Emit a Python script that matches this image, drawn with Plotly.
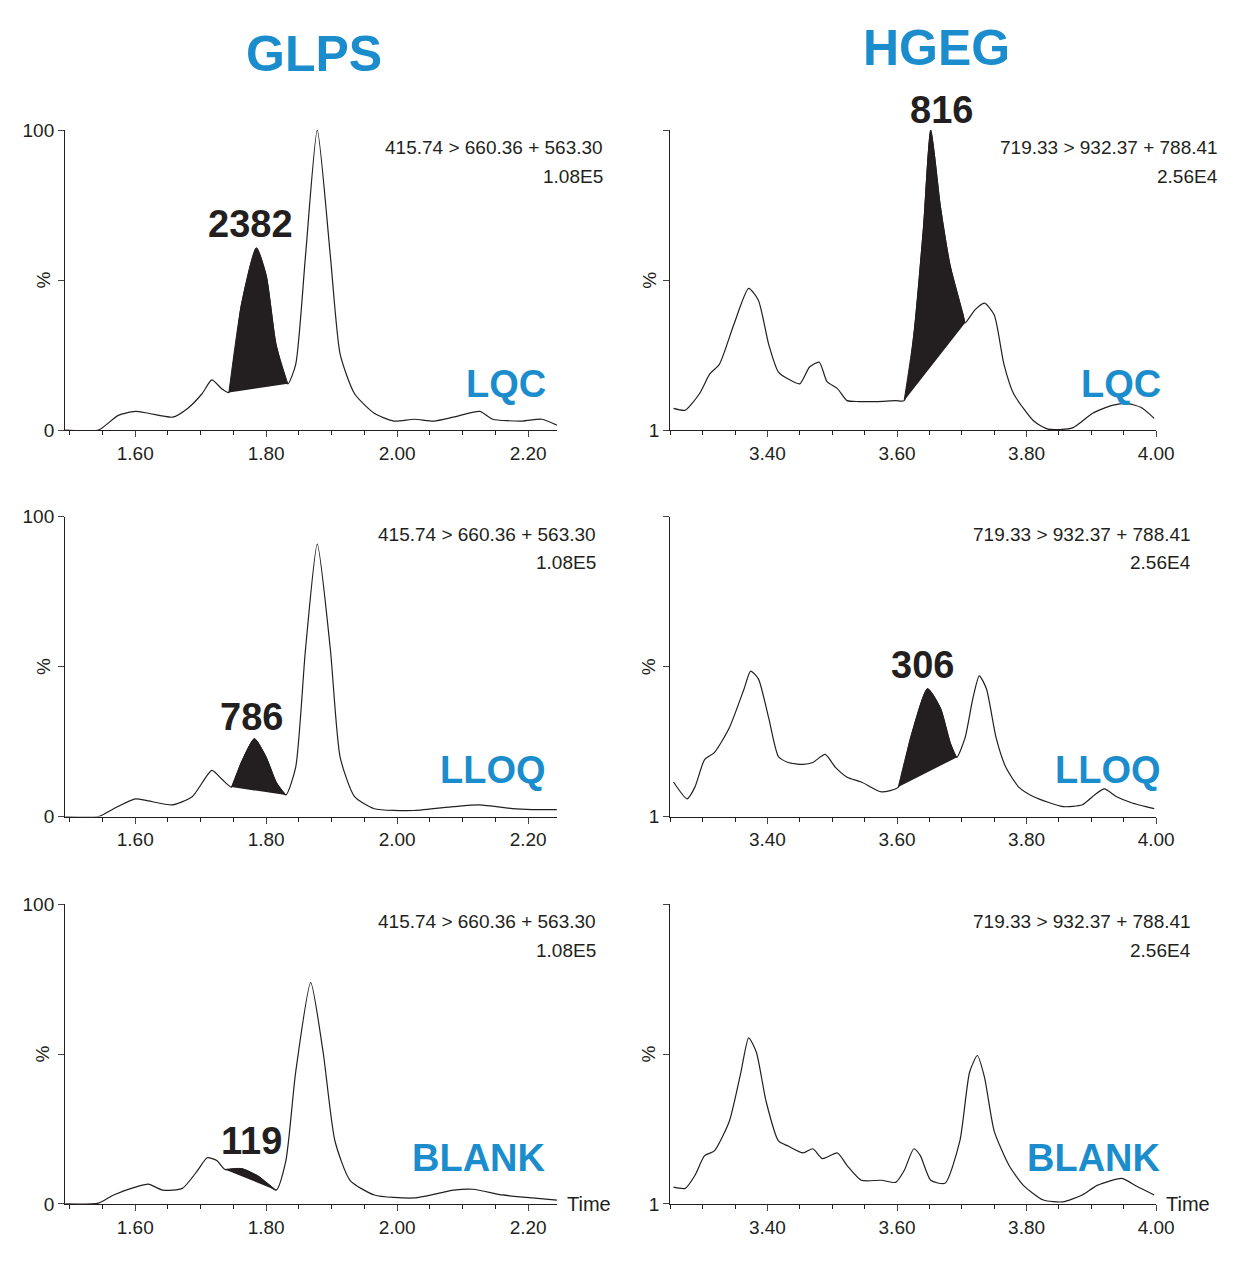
import plotly.graph_objects as go

W, H = 1244, 1264
def PX(x): return (x - 8) / W
def PY(y): return 1 - (y - 8) / H

# ---------- data ----------
glps_lqc_t = [1.493,1.544,1.574,1.600,1.620,1.657,1.680,1.702,1.717,1.732,1.743,1.762,1.785,1.800,1.815,1.833,1.845,1.860,1.878,1.898,1.913,1.935,1.965,1.995,2.026,2.056,2.086,2.126,2.146,2.191,2.221,2.244]
glps_lqc_y = [0,0,4.9,6.2,5.6,4.3,7.2,12.1,16.7,13.8,12.5,41.6,60.7,51.5,28.5,15.4,21.8,58,100,58,25.2,12.1,5.6,3,3.6,3,4.3,6.2,3.6,3,3.6,1.6]
glps_lqc_shade = (1.743, 1.833)

glps_lloq_t = [1.493,1.544,1.567,1.600,1.620,1.657,1.687,1.717,1.732,1.747,1.762,1.782,1.800,1.815,1.830,1.845,1.860,1.878,1.898,1.913,1.935,1.965,2.026,2.086,2.126,2.176,2.206,2.244]
glps_lloq_y = [0,0,2.6,5.9,5.2,3.9,6.6,15.4,12.5,9.8,18,25.9,19.7,11.5,7.2,16.4,55.7,90.8,55.7,19.7,6.6,2.6,2,3.3,3.9,2.6,2.3,2.3]
glps_lloq_shade = (1.747, 1.830)

glps_blank_t = [1.493,1.544,1.567,1.600,1.620,1.642,1.672,1.695,1.710,1.725,1.737,1.762,1.788,1.815,1.830,1.845,1.868,1.887,1.905,1.928,1.965,2.026,2.086,2.116,2.161,2.206,2.244]
glps_blank_y = [0,0.3,3,5.6,6.6,4.6,5.2,11.1,15.4,14.4,11.5,11.8,9.2,4.6,14.4,43.9,73.8,50.5,21,7.9,3,2,4.6,4.9,3,2,1.3]
glps_blank_shade = (1.737, 1.815)

hgeg_lqc_t = [3.255,3.273,3.295,3.311,3.326,3.348,3.371,3.386,3.402,3.417,3.432,3.450,3.465,3.480,3.492,3.508,3.523,3.541,3.568,3.598,3.611,3.626,3.641,3.652,3.667,3.682,3.702,3.705,3.720,3.735,3.750,3.765,3.780,3.811,3.833,3.871,3.902,3.932,3.955,3.977,3.997]
hgeg_lqc_y = [7.2,6.6,12.1,18.7,22,35.1,47.2,43.3,28.5,19.3,17,15.4,21,22.6,16.1,13.8,9.8,9.5,9.5,9.8,9.8,31.8,67.9,100,74.4,54.8,38.4,35.7,40,42.3,38.4,22,12.1,3,0.3,0.7,5.6,8.2,8.9,7.5,3.9]
hgeg_lqc_shade = (3.611, 3.705)

hgeg_lloq_t = [3.255,3.276,3.288,3.303,3.318,3.341,3.364,3.374,3.386,3.402,3.417,3.432,3.455,3.470,3.489,3.505,3.523,3.545,3.576,3.602,3.621,3.647,3.667,3.682,3.692,3.705,3.717,3.727,3.738,3.753,3.768,3.788,3.811,3.856,3.886,3.905,3.920,3.939,3.962,3.997]
hgeg_lloq_y = [11.5,5.9,9.8,19,21.3,29.5,42.6,48.5,45.9,32.8,20,18,17.4,18,20.7,16.4,13.1,11.5,8.2,9.8,26.2,42.6,36.1,24.6,19.7,26.2,39.3,46.9,42.6,26.2,16.4,9.8,6.6,3.3,3.9,7.2,9.2,6.6,4.6,2.6]
hgeg_lloq_shade = (3.602, 3.692)

hgeg_blank_t = [3.255,3.273,3.288,3.303,3.318,3.341,3.359,3.371,3.383,3.398,3.417,3.432,3.455,3.470,3.485,3.508,3.523,3.545,3.576,3.598,3.611,3.626,3.636,3.652,3.674,3.697,3.712,3.724,3.735,3.750,3.773,3.795,3.826,3.856,3.886,3.909,3.947,3.970,3.997]
hgeg_blank_y = [5.6,5.2,9.5,16.1,17.7,27.5,43.9,55.4,50.5,34.1,21,19.3,17,18.4,15.1,17,12.8,7.9,7.9,7.2,11.1,18.4,16.1,7.9,6.9,21,43.9,49.5,42.3,24.3,12.8,6.2,1.3,0.7,3,6.2,8.5,5.9,3]

peak_labels = ["2382", "786", "119", "816", "306", None]
sample_labels = ["LQC", "LLOQ", "BLANK", "LQC", "LLOQ", "BLANK"]
left_info = ["415.74 > 660.36 + 563.30", "1.08E5"]
right_info = ["719.33 > 932.37 + 788.41", "2.56E4"]

BLUE = "#1b8dcd"
FONT = "Liberation Sans, Arial, sans-serif"

fig = go.Figure()
rows_px = [(122, 427), (515, 820), (909, 1214)]
cols_px = [(66, 565), (680, 1173)]
panels = [
    (0, 0, glps_lqc_t, glps_lqc_y, glps_lqc_shade),
    (0, 1, glps_lloq_t, glps_lloq_y, glps_lloq_shade),
    (0, 2, glps_blank_t, glps_blank_y, glps_blank_shade),
    (1, 0, hgeg_lqc_t, hgeg_lqc_y, hgeg_lqc_shade),
    (1, 1, hgeg_lloq_t, hgeg_lloq_y, hgeg_lloq_shade),
    (1, 2, hgeg_blank_t, hgeg_blank_y, None),
]
annotations = []
def ann(x, y, text, size, color="#231f20", xanchor="center", angle=0):
    annotations.append(dict(x=PX(x), y=PY(y), xref="paper", yref="paper", text=text,
                            showarrow=False, xanchor=xanchor, yanchor="middle", textangle=angle,
                            font=dict(size=size, family=FONT, color=color)))

for i, (c, r, t, y, sh) in enumerate(panels):
    k = i + 1
    xa = "x" if k == 1 else f"x{k}"
    ya = "y" if k == 1 else f"y{k}"
    if sh:
        st = [tt for tt in t if sh[0] <= tt <= sh[1]]
        sy = [yy for tt, yy in zip(t, y) if sh[0] <= tt <= sh[1]]
        fig.add_trace(go.Scatter(x=st, y=sy, mode="lines", fill="toself",
                                 fillcolor="#231f20", line=dict(color="#231f20", width=1, shape="spline", smoothing=0.6),
                                 xaxis=xa, yaxis=ya, showlegend=False, hoverinfo="skip"))
    fig.add_trace(go.Scatter(x=t, y=y, mode="lines", line=dict(color="#231f20", width=1.2, shape="spline", smoothing=0.6),
                             xaxis=xa, yaxis=ya, showlegend=False))
    x0, x1 = cols_px[c]
    y0, y1 = rows_px[r]
    if c == 0:
        xr = [1.493, 2.244]; tv = [1.6, 1.8, 2.0, 2.2]
        ytv = [0, 50, 100]; ytt = ["0", "", "100"]
    else:
        xr = [3.25, 4.0]; tv = [3.4, 3.6, 3.8, 4.0]
        ytv = [0, 50, 100]; ytt = ["1", "", ""]
    fig.layout[("xaxis" if k == 1 else f"xaxis{k}")] = dict(
        domain=[PX(x0), PX(x1)], anchor=ya, range=xr, tickvals=tv,
        ticktext=[f"{v:.2f}" for v in tv], ticks="outside", ticklen=6,
        showline=True, linecolor="#231f20", linewidth=1.2, showgrid=False, zeroline=False,
        tickfont=dict(size=19, family=FONT, color="#231f20"),
        minor=dict(dtick=0.05, tick0=0, ticks="outside", ticklen=4, tickcolor="#231f20"))
    fig.layout[("yaxis" if k == 1 else f"yaxis{k}")] = dict(
        domain=[PY(y1), PY(y0)], anchor=xa, range=[0, 100], tickvals=ytv, ticktext=ytt,
        ticks="outside", ticklen=6, showline=True, linecolor="#231f20", linewidth=1.2,
        showgrid=False, zeroline=False, tickfont=dict(size=19, family=FONT, color="#231f20"))
    ann(x0 - 22, (y0 + y1) / 2, "%", 19, angle=-90)
    info = left_info if c == 0 else right_info
    rx = 614 if (c == 0 and r == 0) else (607 if c == 0 else (1238 if r == 0 else 1210))
    for j, s in enumerate(info):
        ann(rx, y0 + 18 + 29 * j, s, 19, xanchor="right")
    sx = 556 if c == 0 else 1180
    ann(sx, y1 - 47, f"<b>{sample_labels[i]}</b>", 38, color=BLUE, xanchor="right")
    if r == 2:
        ann(x1 + 8, y1, "Time", 20, xanchor="left")

peak_pos = [(254, 217), (255, 719), (255, 1150), (955, 102), (936, 666)]
for lab, (x, y) in zip(peak_labels, peak_pos):
    ann(x, y, f"<b>{lab}</b>", 38)
ann(318, 45, "<b>GLPS</b>", 50, color=BLUE)
ann(950, 38, "<b>HGEG</b>", 50, color=BLUE)

fig.update_layout(width=W, height=H, margin=dict(l=0, r=0, t=0, b=0),
                  paper_bgcolor="white", plot_bgcolor="white", annotations=annotations)
fig.write_html("out.html")
